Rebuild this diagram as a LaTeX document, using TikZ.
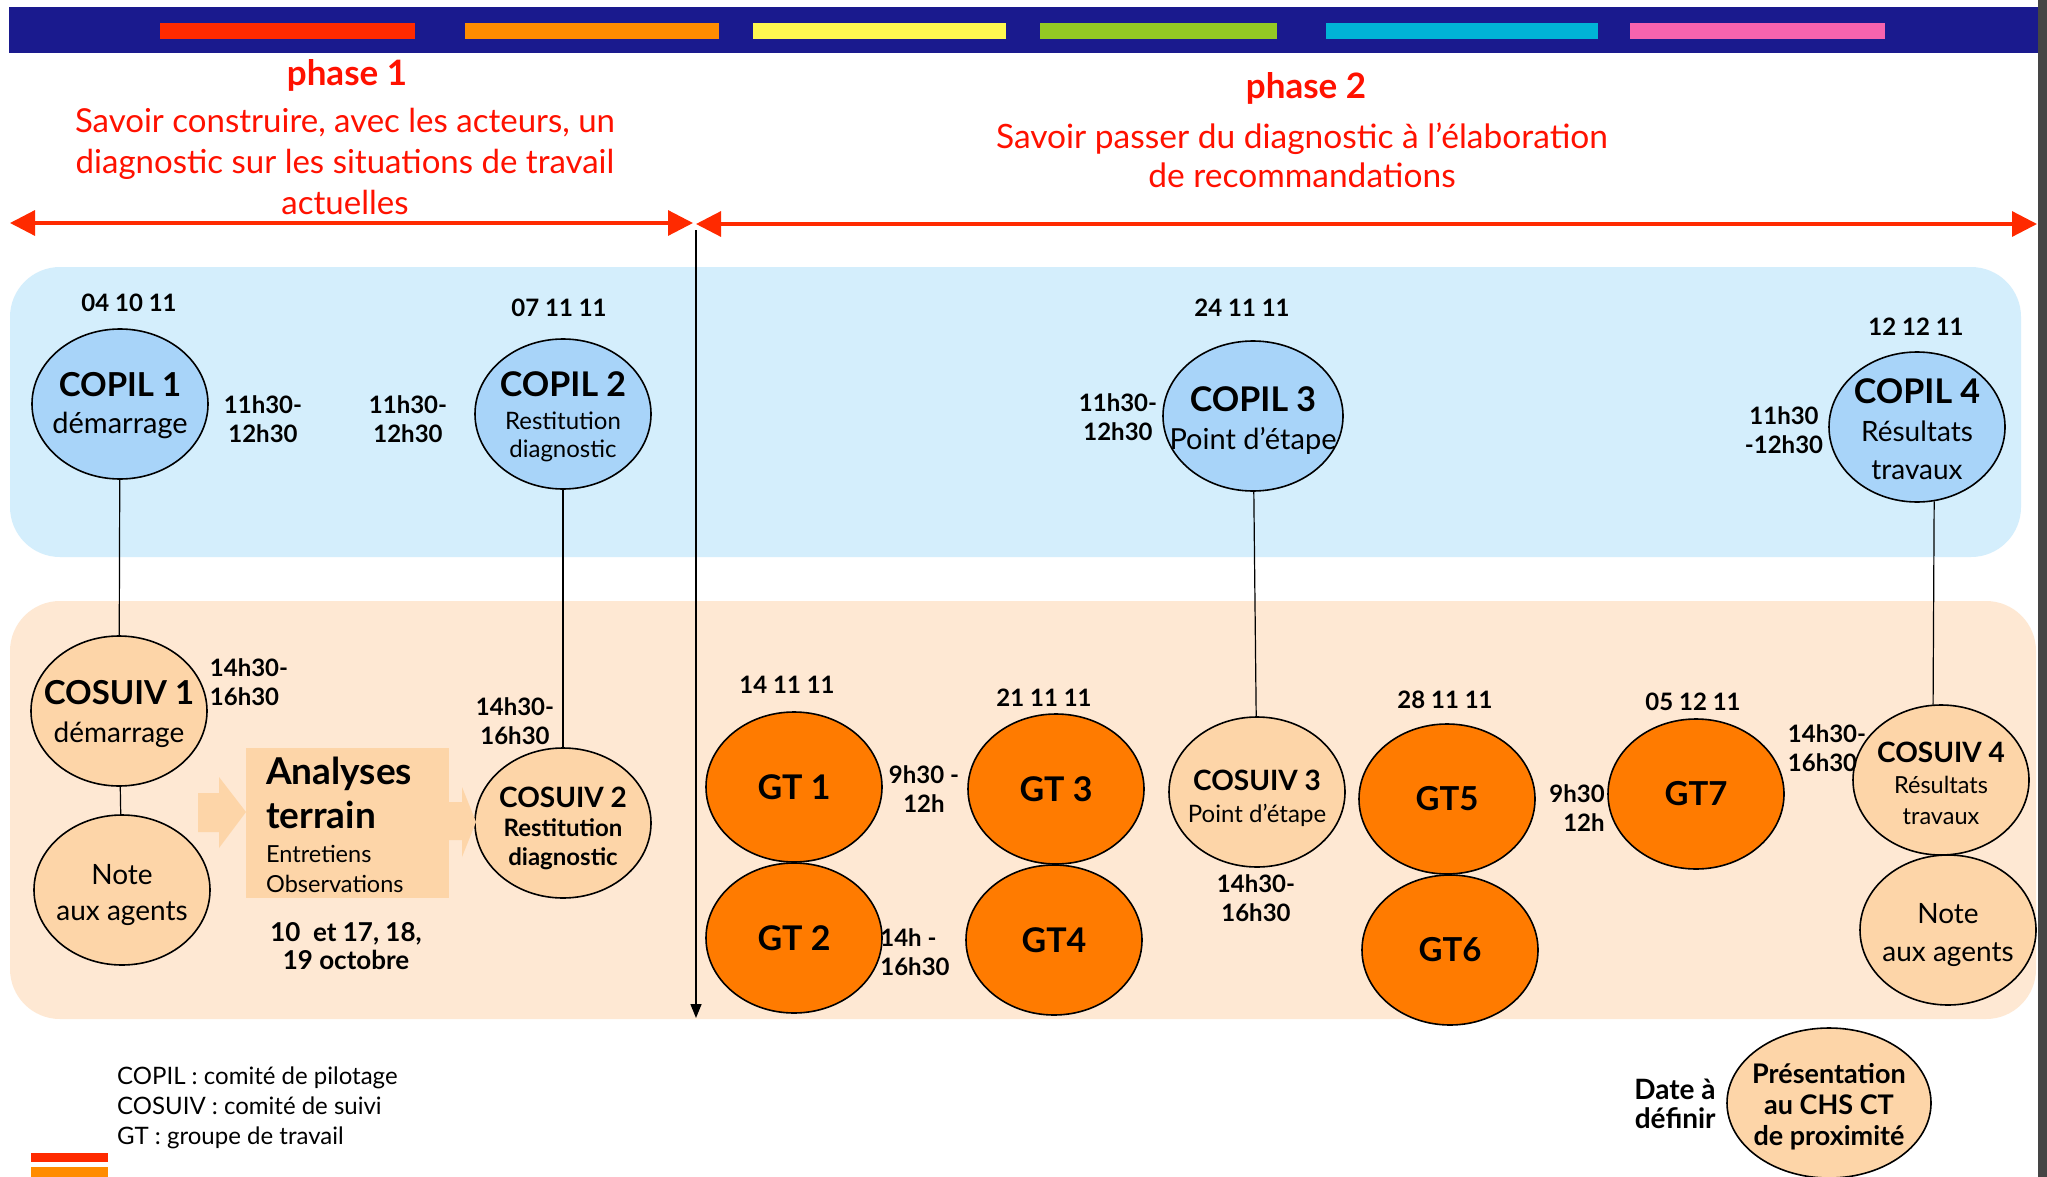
\documentclass[tikz,border=0pt]{standalone}
\usepackage{fontspec}
\setmainfont{Lato}
\usetikzlibrary{shapes.geometric,arrows.meta}
\definecolor{navy}{HTML}{1A1A8E}
\definecolor{stripred}{HTML}{FF2A00}
\definecolor{striporange}{HTML}{FF8C00}
\definecolor{stripyellow}{HTML}{FFF850}
\definecolor{stripgreen}{HTML}{94C923}
\definecolor{stripcyan}{HTML}{00B3D6}
\definecolor{strippink}{HTML}{F763AE}
\definecolor{phasered}{HTML}{FF1100}
\definecolor{arrowred}{HTML}{FF2A00}
\definecolor{bandblue}{HTML}{D4EEFC}
\definecolor{copilblue}{HTML}{A8D4F9}
\definecolor{bandpeach}{HTML}{FEE8D3}
\definecolor{peachfill}{HTML}{FDD5A8}
\definecolor{gtorange}{HTML}{FF7B00}
\definecolor{graybar}{HTML}{454545}
\newcommand\myfs[2]{\fontsize{#1}{#2}\selectfont}
\begin{document}
\begin{tikzpicture}[x=1pt,y=-1pt,
  bubble/.style={ellipse, draw=black, line width=1.6pt, minimum width=176pt, minimum height=150pt, inner sep=0pt},
  copil/.style={bubble, fill=copilblue},
  cosuiv/.style={bubble, fill=peachfill},
  gt/.style={bubble, fill=gtorange},
  inlbl/.style={align=center, inner sep=0pt},
  datetxt/.style={inner sep=0pt, font=\bfseries\myfs{24}{28}},
  tm/.style={align=center, inner sep=0pt, font=\bfseries\myfs{24}{29}},
  antext/.style={inner sep=0pt, anchor=base west},
  conn/.style={draw=black, line width=1.2pt},
  redarrow/.style={draw=arrowred, line width=3.2pt, {Triangle[length=25pt,width=25pt]}-{Triangle[length=25pt,width=25pt]}},
  blockarrow/.style={fill=peachfill},
]
\useasboundingbox (0,0) rectangle (2047,1177);
\fill[white] (0,0) rectangle (2047,1177);
\fill[graybar] (2038,0) rectangle (2047,1177);
% top bar
\fill[navy] (9,7) rectangle (2038,53);
\fill[stripred] (160,23) rectangle (415,39);
\fill[striporange] (465,23) rectangle (719,39);
\fill[stripyellow] (753,23) rectangle (1006,39);
\fill[stripgreen] (1040,23) rectangle (1277,39);
\fill[stripcyan] (1326,23) rectangle (1598,39);
\fill[strippink] (1630,23) rectangle (1885,39);
% phase titles
\node[inner sep=0pt, text=phasered, font=\bfseries\myfs{35}{40}] (ph1) at (347,75) {phase 1};
\node[inner sep=0pt, text=phasered, align=center, font=\myfs{33}{41}] (ph1txt) at (345,161) {Savoir construire, avec les acteurs, un\\diagnostic sur les situations de travail\\actuelles};
\node[inner sep=0pt, text=phasered, font=\bfseries\myfs{35}{40}] (ph2) at (1306,88) {phase 2};
\node[inner sep=0pt, text=phasered, align=center, font=\myfs{33.5}{39}] (ph2txt) at (1302,155) {Savoir passer du diagnostic à l’élaboration\\de recommandations};
% phase arrows
\coordinate (a1l) at (10,223);
\coordinate (a1r) at (693,223);
\coordinate (a2l) at (696,224);
\coordinate (a2r) at (2037,224);
\draw[redarrow] (a1l) -- (a1r);
\draw[redarrow] (a2l) -- (a2r);
% bands
\fill[bandblue, rounded corners=50pt] (10,267) rectangle (2021,557);
\fill[bandpeach, rounded corners=50pt] (10,601) rectangle (2036,1019);
% vertical arrow
\coordinate (vtop) at (696,230);
\coordinate (vbot) at (696,1018);
\draw[line width=1.5pt, -{Triangle[length=14pt,width=11pt]}] (vtop) -- (vbot);
% COPIL
\node[copil, label={[inlbl, yshift=-2pt, font=\myfs{29}{37}]center:{{\bfseries\myfs{33}{37}COPIL 1}\\démarrage}}] (copil1) at (120,404) {};
\node[copil, label={[inlbl, yshift=-3pt, font=\myfs{24}{28}]center:{{\bfseries\myfs{34}{34}COPIL 2}\\[5pt]Restitution\\diagnostic}}] (copil2) at (563,414) {};
\node[copil, minimum width=180pt, label={[inlbl, yshift=-5pt, font=\myfs{29}{38}]center:{{\bfseries\myfs{34}{38}COPIL 3}\\Point d’étape}}] (copil3) at (1253,416) {};
\node[copil, label={[inlbl, yshift=-2pt, font=\myfs{28}{38}]center:{{\bfseries\myfs{34}{38}COPIL 4}\\Résultats\\travaux}}] (copil4) at (1917,427) {};
% COSUIV and notes
\node[cosuiv, label={[inlbl, yshift=-3pt, font=\myfs{28}{38}]center:{{\bfseries\myfs{33}{38}COSUIV 1}\\démarrage}}] (cosuiv1) at (119,711) {};
\node[cosuiv, label={[inlbl, yshift=-5pt, font=\myfs{28}{36}]center:{Note\\aux agents}}] (note1) at (122,890) {};
\node[cosuiv, label={[inlbl, yshift=-5pt, font=\bfseries\myfs{24}{29}]center:{{\myfs{28}{29}COSUIV 2}\\Restitution\\diagnostic}}] (cosuiv2) at (563,823) {};
\node[cosuiv, label={[inlbl, yshift=-6pt, font=\myfs{24}{32}]center:{{\bfseries\myfs{28}{32}COSUIV 3}\\Point d’étape}}] (cosuiv3) at (1257,792) {};
\node[cosuiv, label={[inlbl, yshift=-3pt, font=\myfs{23.5}{31}]center:{{\bfseries\myfs{28}{31}COSUIV 4}\\Résultats\\travaux}}] (cosuiv4) at (1941,780) {};
\node[cosuiv, label={[inlbl, yshift=-5pt, font=\myfs{28}{38}]center:{Note\\aux agents}}] (note2) at (1948,930) {};
\node[cosuiv, minimum width=204pt, label={[inlbl, yshift=-4pt, font=\bfseries\myfs{27}{31}]center:{Présentation\\au CHS CT\\de proximité}}] (chsct) at (1829,1103) {};
% GT
\node[gt, label={[inlbl, font=\bfseries\myfs{34}{34}]center:{GT 1}}] (gt1) at (794,787) {};
\node[gt, label={[inlbl, font=\bfseries\myfs{34}{34}]center:{GT 2}}] (gt2) at (794,938) {};
\node[gt, label={[inlbl, font=\bfseries\myfs{34}{34}]center:{GT 3}}] (gt3) at (1056,789) {};
\node[gt, label={[inlbl, font=\bfseries\myfs{34}{34}]center:{GT4}}] (gt4) at (1054,940) {};
\node[gt, label={[inlbl, font=\bfseries\myfs{33}{34}]center:{GT5}}] (gt5) at (1447,799) {};
\node[gt, label={[inlbl, font=\bfseries\myfs{33}{34}]center:{GT6}}] (gt6) at (1450,950) {};
\node[gt, label={[inlbl, font=\bfseries\myfs{33}{34}]center:{GT7}}] (gt7) at (1696,794) {};
% connectors
\draw[conn] (copil1) -- (cosuiv1);
\draw[conn] (cosuiv1) -- (note1);
\draw[conn] (copil2) -- (cosuiv2);
\draw[conn] (copil3) -- (cosuiv3);
\draw[conn] (copil4.-77) -- (cosuiv4.96);
% analyses terrain
\fill[blockarrow] (198,793) -- (219,793) -- (219,777) -- (246,812) -- (219,848) -- (219,832) -- (198,832) -- cycle;
\node[fill=peachfill, minimum width=203pt, minimum height=150pt, inner sep=0pt, anchor=north west] (anbox) at (246,748) {};
\fill[blockarrow] (449,802) -- (462,802) -- (462,787) -- (476,822) -- (462,857) -- (462,840) -- (449,840) -- cycle;
\node[antext, font=\bfseries\myfs{37}{40}] (an1) at (266,784) {Analyses};
\node[antext, font=\bfseries\myfs{37}{40}] (an2) at (266,828) {terrain};
\node[antext, font=\myfs{23.5}{28}] (an3) at (266,862) {Entretiens};
\node[antext, font=\myfs{23.5}{28}] (an4) at (266,892) {Observations};
% dates
\node[datetxt] (d1) at (129,303) {04 10 11};
\node[datetxt] (d2) at (559,308) {07 11 11};
\node[datetxt] (d3) at (1242,308) {24 11 11};
\node[datetxt] (d4) at (1916,327) {12 12 11};
\node[datetxt] (d5) at (787,685) {14 11 11};
\node[datetxt] (d6) at (1044,698) {21 11 11};
\node[datetxt] (d7) at (1445,700) {28 11 11};
\node[datetxt] (d8) at (1693,702) {05 12 11};
% times
\node[tm] (t1) at (263,419) {11h30-\\12h30};
\node[tm] (t2) at (408,419) {11h30-\\12h30};
\node[tm] (t3) at (1118,417) {11h30-\\12h30};
\node[tm] (t4) at (1784,430) {11h30\\-12h30};
\node[tm, align=left] (t5) at (249,682) {14h30-\\16h30};
\node[tm] (t6) at (515,721) {14h30-\\16h30};
\node[tm] (t7) at (924,789) {9h30 -\\12h};
\node[tm, align=left] (t8) at (915,952) {14h -\\16h30};
\node[tm] (t9) at (1256,898) {14h30-\\16h30};
\node[tm, align=right] (t10) at (1577,808) {9h30\\12h};
\node[tm, align=left] (t11) at (1827,748) {14h30-\\16h30};
\node[tm, font=\bfseries\myfs{26}{28}] (oct) at (346,946) {10\ \ et 17, 18,\\19 octobre};
\node[tm, align=right, font=\bfseries\myfs{28}{29}] (dadef) at (1675,1104) {Date à\\définir};
% legend
\node[inner sep=0pt, anchor=west, align=left, font=\myfs{24}{30}] (legend) at (117,1108) {COPIL : comité de pilotage\\COSUIV : comité de suivi\\GT : groupe de travail};
% bottom-left strips
\fill[stripred] (31,1153) rectangle (108,1162);
\fill[striporange] (31,1167) rectangle (108,1177);
\end{tikzpicture}
\end{document}
